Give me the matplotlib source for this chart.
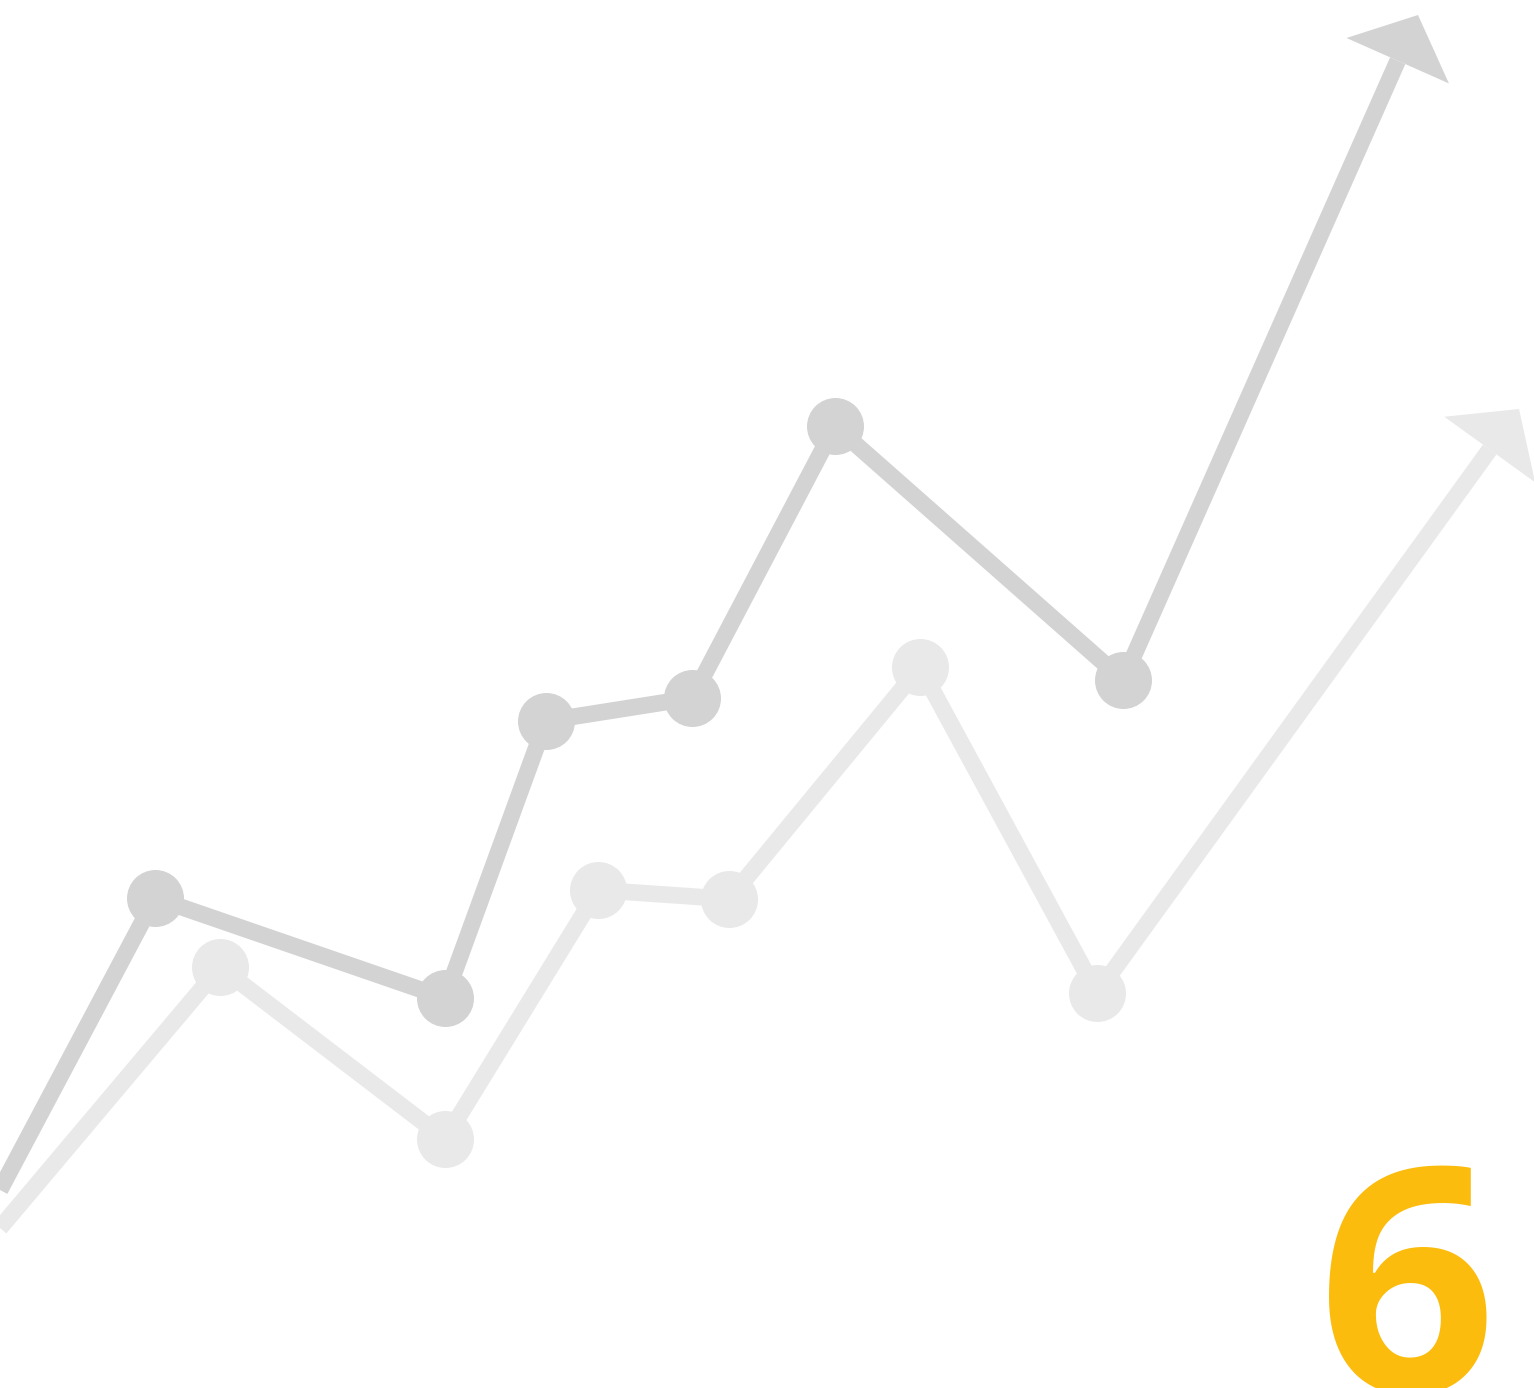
import numpy as np
import matplotlib.pyplot as plt

# series (x to the right, y downwards, in image units)
dark_x = [0, 155, 445, 546, 692, 835, 1123]
dark_y = [1190, 898, 998, 721, 698, 426, 680]
dark_tip = (1418, 15)

light_x = [0, 220, 445, 598, 729, 920, 1097]
light_y = [1228, 967, 1139, 890, 899, 667, 993]
light_tip = (1519, 409)

label = '6'

DARK = '#d3d3d3'
LIGHT = '#e9e9e9'
YELLOW = '#fbbc0d'


def draw_series(ax, xs, ys, tip, color, lw, head_len=50, head_w=112):
    # line up to the base of the arrow head, then the head itself
    x0, y0 = xs[-1], ys[-1]
    d = np.array([tip[0] - x0, tip[1] - y0], dtype=float)
    d /= np.hypot(*d)
    n = np.array([-d[1], d[0]])
    base = np.array(tip) - d * head_len
    ax.plot(list(xs) + [base[0]], list(ys) + [base[1]], color=color, lw=lw,
            solid_capstyle='butt', solid_joinstyle='miter', zorder=2)
    head = np.array([tip, base + n * head_w / 2, base - n * head_w / 2])
    ax.fill(head[:, 0], head[:, 1], color=color, lw=0, zorder=2)
    ax.scatter(xs[1:], ys[1:], s=(57 * 0.72) ** 2, color=color, lw=0, zorder=3)


fig = plt.figure(figsize=(15.34, 13.88), dpi=100)
ax = fig.add_axes([0, 0, 1, 1])
ax.set_xlim(0, 1534)
ax.set_ylim(1388, 0)
ax.axis('off')

draw_series(ax, light_x, light_y, light_tip, LIGHT, 12)
draw_series(ax, dark_x, dark_y, dark_tip, DARK, 12)

ax.text(1407, 1392, label, color=YELLOW, fontsize=225, fontweight='bold',
        family=['Open Sans', 'DejaVu Sans'], ha='center', va='baseline', zorder=4)

fig.savefig('out.png', dpi=100)
